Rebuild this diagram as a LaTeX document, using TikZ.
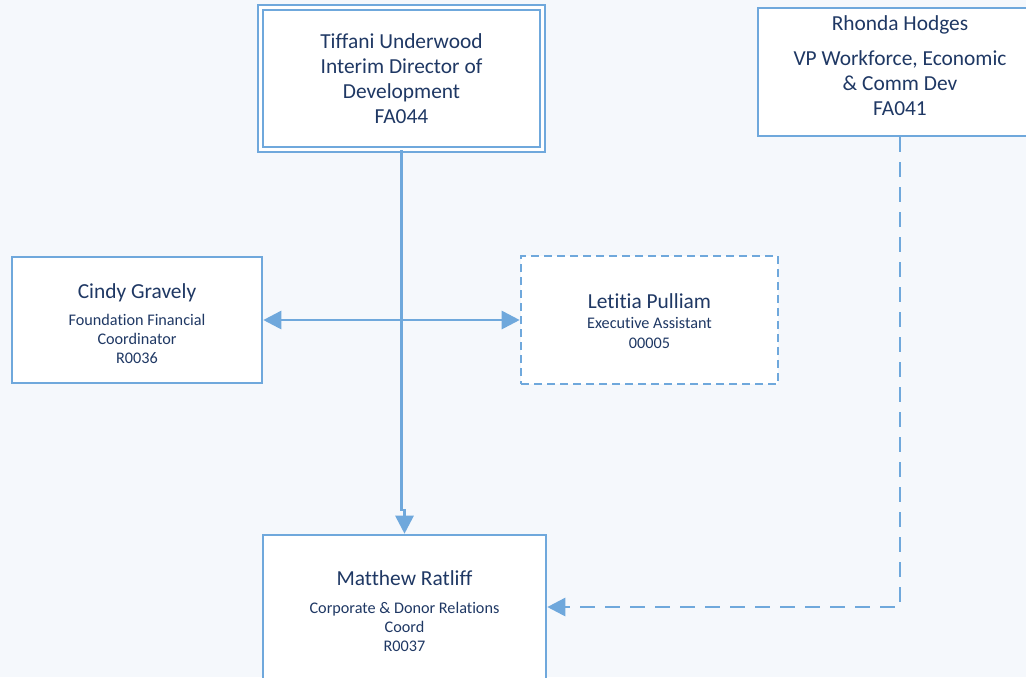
\documentclass[tikz,border=0pt]{standalone}
\usepackage{fontspec}
\setmainfont{Carlito}[Ligatures={NoCommon,NoRare}]
\usetikzlibrary{arrows.meta, positioning}
\definecolor{orgline}{HTML}{6FA8DC}
\definecolor{orgtext}{HTML}{1F3864}
\definecolor{orgbg}{HTML}{F5F8FC}
\newcommand{\smallrole}{\fontsize{8.1}{9.5}\selectfont}

\begin{document}
\begin{tikzpicture}[
  x=0.5pt, y=-0.5pt,
  box/.style={draw=orgline, fill=white, line width=1.3pt, inner sep=0pt,
    align=center, text=orgtext, font=\fontsize{10.7}{12.5}\selectfont},
  topbox/.style={box, line width=0.8pt, double=white, double distance=1.6pt},
  dashbox/.style={box, dash pattern=on 4pt off 2.5pt},
  link/.style={orgline, line width=1.4pt},
  >={Triangle[length=9pt, width=9pt]}
]
  % Background
  \useasboundingbox (0,0) rectangle (1026,677);
  \fill[orgbg] (0,0) rectangle (1026,677);

  % Boxes
  \node[topbox, minimum width=141pt, minimum height=71pt] (tiffani)
    at (401.5, 78.5)
    {Tiffani Underwood\\Interim Director of\\Development\\FA044};
  \node[box, minimum width=142pt, minimum height=64pt] (rhonda)
    at (900, 72)
    {Rhonda Hodges\\[5pt]VP Workforce, Economic\\\& Comm Dev\\
     FA041\rule[-6pt]{0pt}{6pt}};
  \node[box, minimum width=125pt, minimum height=63pt] (cindy)
    at (137, 320)
    {\rule{0pt}{11pt}Cindy Gravely\\[1pt]\smallrole Foundation Financial\\[-3pt]
     \smallrole Coordinator\\[-3pt]\smallrole R0036};
  \node[dashbox, minimum width=128.5pt, minimum height=64pt] (letitia)
    at (649.5, 320)
    {\rule{0pt}{9pt}Letitia Pulliam\\[-2.5pt]\smallrole Executive Assistant\\[-2.5pt]
     \smallrole 00005};
  \node[box, minimum width=141.5pt, minimum height=72pt] (matthew)
    at (404.5, 607)
    {\rule{0pt}{11.5pt}Matthew Ratliff\\[1.5pt]\smallrole Corporate \& Donor Relations\\[-3pt]
     \smallrole Coord\\[-3pt]\smallrole R0037};

  % Connectors
  \coordinate (jog) at (401.5, 510);
  \draw[link, ->] (tiffani.south) -- (jog) -| (matthew.north);
  \draw[link, <->] (cindy.east) -- (letitia.west);
  \draw[link, ->, dash pattern=on 7.5pt off 5pt] (rhonda.south)
    |- (matthew.east);
\end{tikzpicture}
\end{document}
